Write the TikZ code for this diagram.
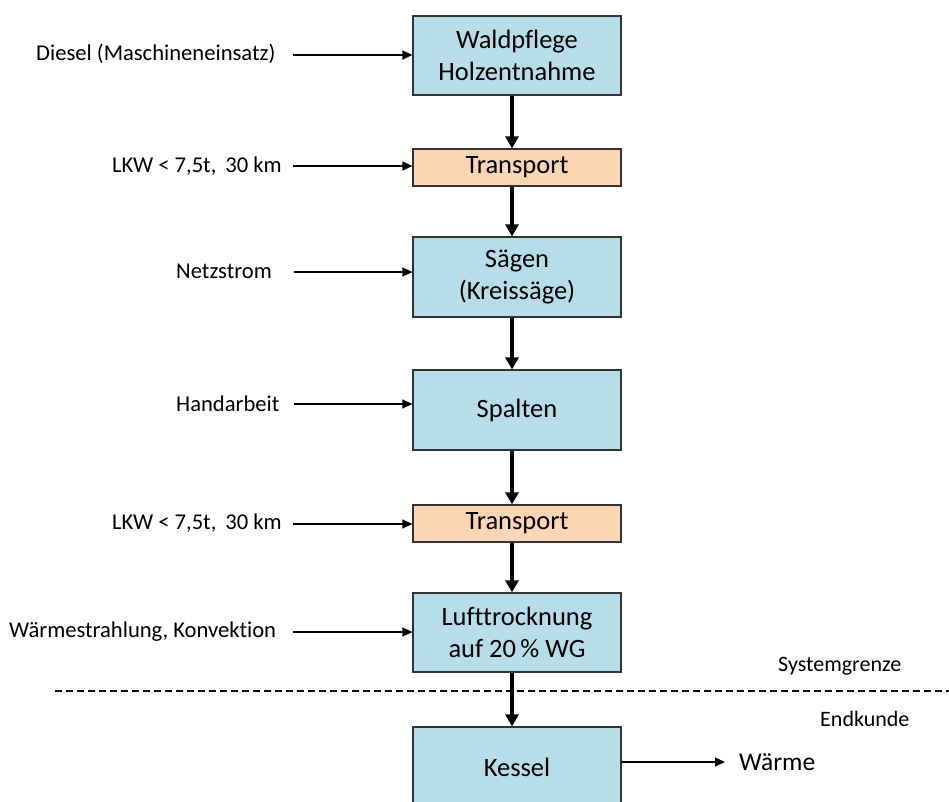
\documentclass[tikz,border=0pt]{standalone}
\usepackage{fontspec}
\setmainfont[Ligatures={NoCommon}]{Carlito}
\usetikzlibrary{arrows.meta}
\definecolor{boxblue}{RGB}{183,222,232}
\definecolor{boxorange}{RGB}{252,213,181}
\begin{document}
\begin{tikzpicture}[x=1pt,y=-1pt,
  procbox/.style={draw=black!80,line width=1.2pt,fill=boxblue,minimum width=208pt,minimum height=80pt,inner sep=0pt,align=center,font=\fontsize{26.5}{32}\selectfont},
  transbox/.style={procbox,fill=boxorange,minimum height=37pt},
  inlabel/.style={anchor=west,inner sep=0pt,font=\fontsize{22.6}{26}\selectfont},
  inarrow/.style={line width=1.3pt,-{Triangle[length=10pt,width=9pt]}},
  flowarrow/.style={line width=3.5pt,-{Triangle[length=12pt,width=13pt]}},
  bndline/.style={line width=1.2pt,dash pattern=on 7pt off 4pt}]
\useasboundingbox (0,0) rectangle (949,801);
\clip (0,0) rectangle (949,801);
% boxes
\node[procbox,minimum height=79pt] (b1) at (517,55.5) {Waldpflege\\Holzentnahme};
\node[transbox] (t1) at (517,167.5) {Transport};
\node[procbox] (b2) at (517,277) {Sägen\\(Kreissäge)};
\node[procbox] (b3) at (517,410) {Spalten};
\node[transbox] (t2) at (517,523.5) {Transport};
\node[procbox,minimum height=79pt] (b4) at (517,632.5) {Lufttrocknung\\auf 20\,\% WG};
\node[procbox] (b5) at (517,767) {Kessel};
% vertical flow
\draw[flowarrow] ([xshift=-5pt]b1.south) -- ([xshift=-5pt]t1.north);
\draw[flowarrow] ([xshift=-5pt]t1.south) -- ([xshift=-5pt]b2.north);
\draw[flowarrow] ([xshift=-5pt]b2.south) -- ([xshift=-5pt]b3.north);
\draw[flowarrow] ([xshift=-5pt]b3.south) -- ([xshift=-5pt]t2.north);
\draw[flowarrow] ([xshift=-5pt]t2.south) -- ([xshift=-5pt]b4.north);
\draw[flowarrow] ([xshift=-5pt]b4.south) -- ([xshift=-5pt]b5.north);
% inputs
\node[inlabel] (l1) at (36,54) {Diesel (Maschineneinsatz)};
\node[inlabel] (l2) at (112,166) {LKW < 7,5t,\, 30 km};
\node[inlabel] (l3) at (176,271) {Netzstrom};
\node[inlabel] (l4) at (176,404) {Handarbeit};
\node[inlabel] (l5) at (112,523) {LKW < 7,5t,\, 30 km};
\node[inlabel] (l6) at (9,632) {Wärmestrahlung, Konvektion};
\coordinate (s1) at (293,55);
\coordinate (s2) at (293,166);
\coordinate (s3) at (294,272);
\coordinate (s4) at (294,404);
\coordinate (s5) at (293,524);
\coordinate (s6) at (293,632);
\draw[inarrow] (s1) -- (s1 -| b1.west);
\draw[inarrow] (s2) -- (s2 -| t1.west);
\draw[inarrow] (s3) -- (s3 -| b2.west);
\draw[inarrow] (s4) -- (s4 -| b3.west);
\draw[inarrow] (s5) -- (s5 -| t2.west);
\draw[inarrow] (s6) -- (s6 -| b4.west);
% system boundary
\coordinate (d1) at (55,691);
\coordinate (d2) at (949,691);
\draw[bndline] (d1) -- (d2);
\node[inlabel,font=\fontsize{22}{26}\selectfont] (sg) at (778,666) {Systemgrenze};
\node[inlabel,font=\fontsize{22}{26}\selectfont] (ek) at (820,719) {Endkunde};
% output
\node[inlabel,font=\fontsize{25.5}{30}\selectfont] (w) at (739,762) {Wärme};
\coordinate (o1) at (725,762);
\draw[inarrow] (b5.east |- o1) -- (o1);
\end{tikzpicture}
\end{document}
